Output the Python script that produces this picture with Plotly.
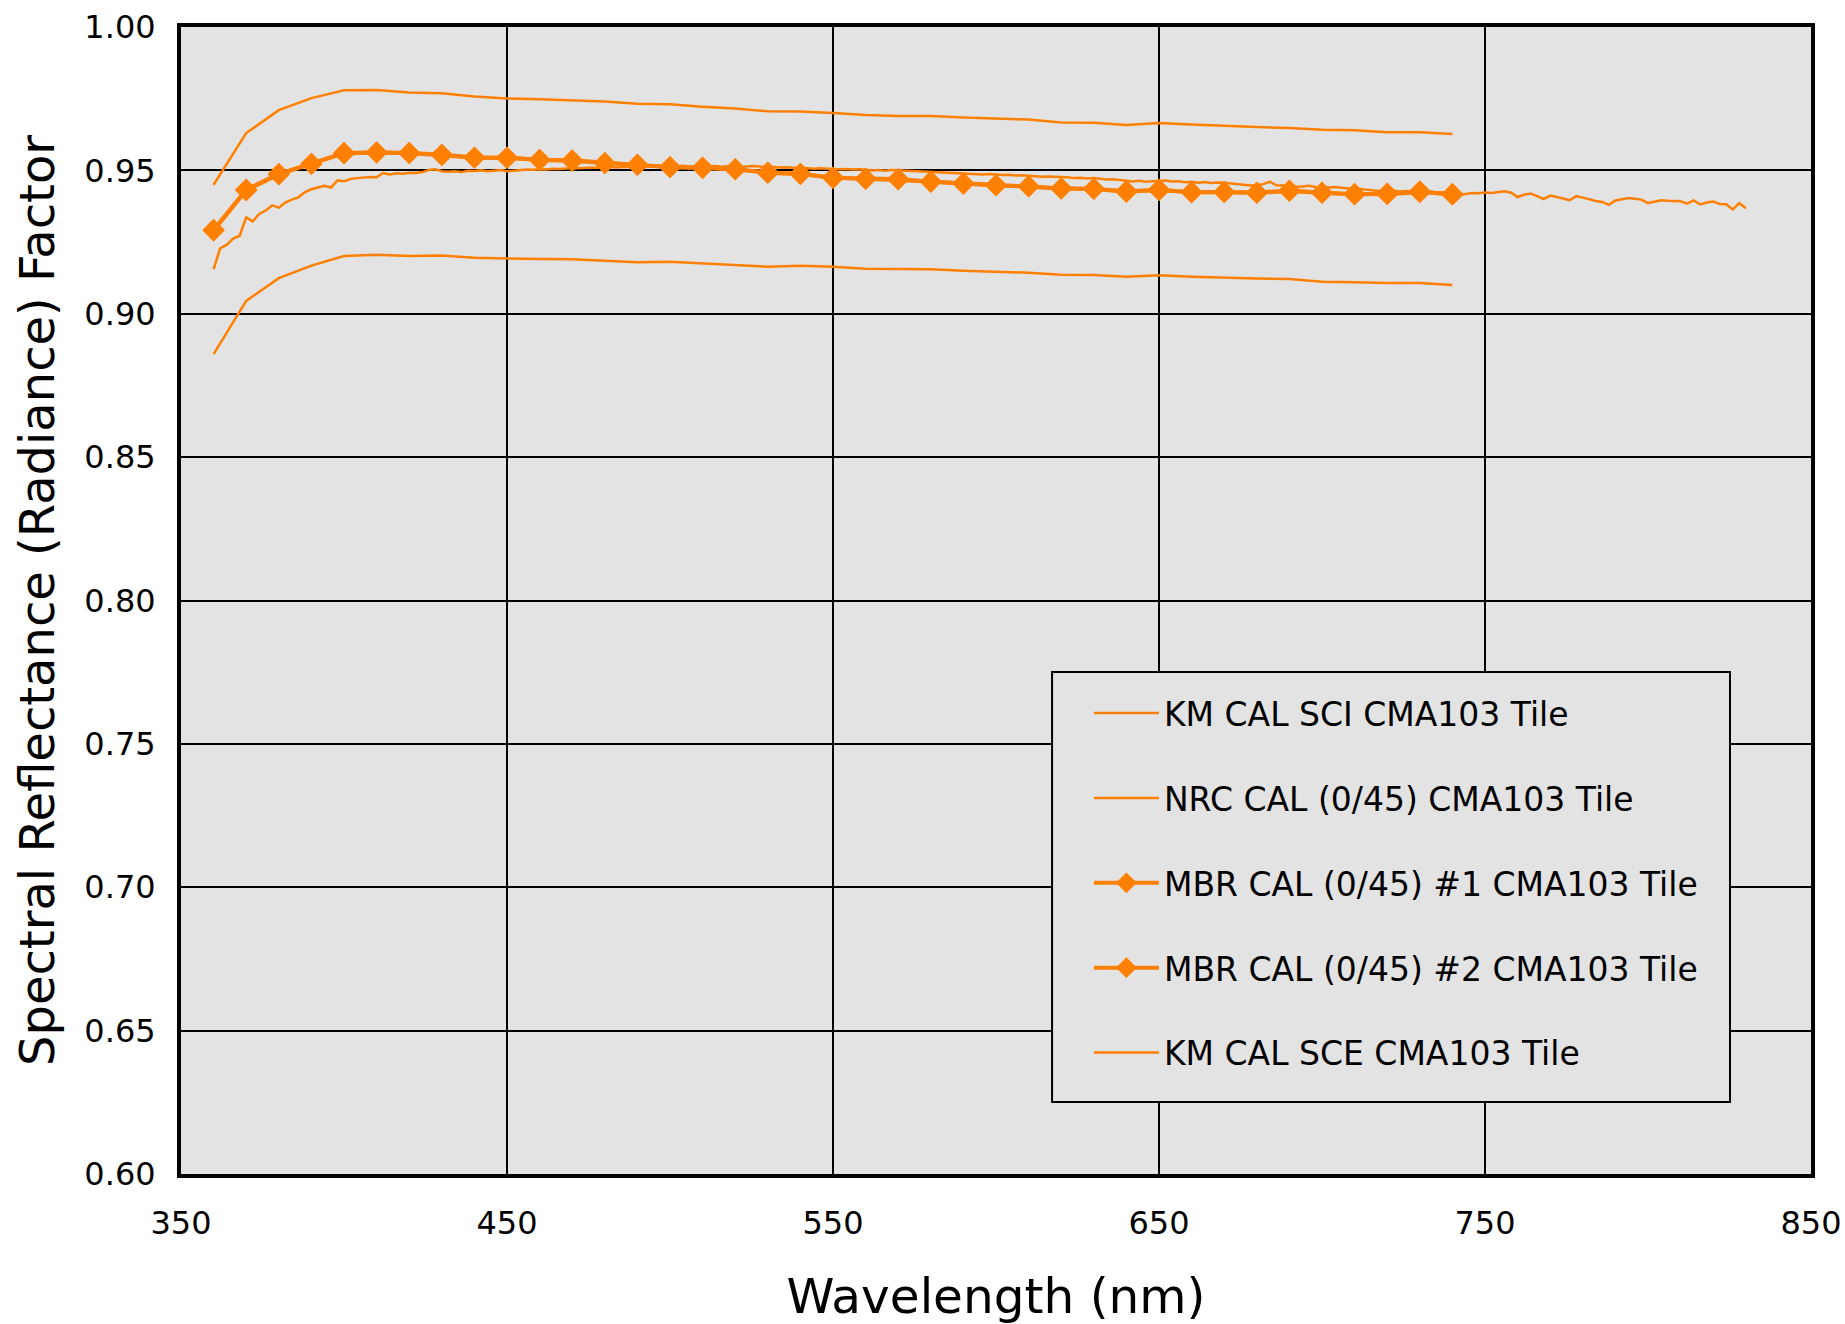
import plotly.graph_objects as go

ORANGE = "#ff8000"
FONT = "DejaVu Sans, Verdana, sans-serif"

wl_10 = list(range(360, 750, 10))

km_sci = [0.9450, 0.9630, 0.9710, 0.9752, 0.9779, 0.9780, 0.9772, 0.9769, 0.9758, 0.9751,
          0.9748, 0.9744, 0.9740, 0.9732, 0.9731, 0.9722, 0.9716, 0.9706, 0.9705, 0.9700,
          0.9693, 0.9690, 0.9690, 0.9684, 0.9680, 0.9677, 0.9667, 0.9666, 0.9658, 0.9665,
          0.9660, 0.9655, 0.9651, 0.9648, 0.9642, 0.9640, 0.9633, 0.9633, 0.9627]

km_sce = [0.8859, 0.9045, 0.9124, 0.9168, 0.9201, 0.9206, 0.9201, 0.9203, 0.9195, 0.9192,
          0.9191, 0.9190, 0.9186, 0.9180, 0.9181, 0.9176, 0.9170, 0.9164, 0.9167, 0.9164,
          0.9157, 0.9156, 0.9155, 0.9150, 0.9146, 0.9143, 0.9136, 0.9135, 0.9129, 0.9134,
          0.9129, 0.9125, 0.9123, 0.9121, 0.9112, 0.9110, 0.9107, 0.9107, 0.9100]

mbr_1 = [0.9293, 0.9433, 0.9488, 0.9523, 0.9561, 0.9563, 0.9561, 0.9555, 0.9545, 0.9545,
         0.9537, 0.9535, 0.9526, 0.9520, 0.9511, 0.9510, 0.9505, 0.9491, 0.9488, 0.9473,
         0.9470, 0.9470, 0.9460, 0.9453, 0.9447, 0.9444, 0.9436, 0.9436, 0.9425, 0.9433,
         0.9423, 0.9425, 0.9423, 0.9430, 0.9423, 0.9416, 0.9419, 0.9427, 0.9415]

mbr_2 = [0.9290, 0.9430, 0.9486, 0.9522, 0.9559, 0.9562, 0.9560, 0.9553, 0.9544, 0.9543,
         0.9536, 0.9533, 0.9525, 0.9519, 0.9512, 0.9508, 0.9503, 0.9493, 0.9487, 0.9475,
         0.9471, 0.9468, 0.9461, 0.9455, 0.9449, 0.9445, 0.9438, 0.9435, 0.9428, 0.9431,
         0.9425, 0.9424, 0.9421, 0.9428, 0.9421, 0.9418, 0.9417, 0.9424, 0.9418]

wl_nrc = list(range(360, 832, 2))
nrc = [0.9156, 0.9228, 0.9240, 0.9262, 0.9272, 0.9336, 0.9322, 0.9348, 0.9360, 0.9378,
       0.9370, 0.9388, 0.9398, 0.9406, 0.9424, 0.9434, 0.9440, 0.9446, 0.9440, 0.9465,
       0.9462, 0.9470, 0.9473, 0.9475, 0.9477, 0.9476, 0.9491, 0.9486, 0.9490, 0.9488,
       0.9492, 0.9491, 0.9494, 0.9501, 0.9504, 0.9497, 0.9495, 0.9497, 0.9494, 0.9499,
       0.9498, 0.9500, 0.9497, 0.9499, 0.9501, 0.9497, 0.9499, 0.9500, 0.9503, 0.9502,
       0.9504, 0.9503, 0.9506, 0.9505, 0.9507, 0.9508, 0.9507, 0.9509, 0.9510, 0.9509,
       0.9511, 0.9512, 0.9510, 0.9513, 0.9512, 0.9514, 0.9513, 0.9515, 0.9514, 0.9513,
       0.9515, 0.9514, 0.9516, 0.9513, 0.9515, 0.9516, 0.9514, 0.9515, 0.9513, 0.9515,
       0.9514, 0.9512, 0.9514, 0.9515, 0.9513, 0.9514, 0.9512, 0.9510, 0.9511, 0.9509,
       0.9510, 0.9508, 0.9506, 0.9507, 0.9505, 0.9505, 0.9504, 0.9505, 0.9503, 0.9504,
       0.9502, 0.9500, 0.9501, 0.9499, 0.9501, 0.9500, 0.9497, 0.9496, 0.9497, 0.9494,
       0.9493, 0.9494, 0.9491, 0.9490, 0.9491, 0.9488, 0.9489, 0.9487, 0.9486, 0.9487,
       0.9485, 0.9484, 0.9485, 0.9482, 0.9483, 0.9481, 0.9480, 0.9478, 0.9479, 0.9477,
       0.9477, 0.9476, 0.9473, 0.9474, 0.9472, 0.9473, 0.9470, 0.9468, 0.9469, 0.9466,
       0.9463, 0.9461, 0.9464, 0.9460, 0.9462, 0.9463, 0.9465, 0.9461, 0.9462, 0.9459,
       0.9460, 0.9457, 0.9459, 0.9456, 0.9458, 0.9457, 0.9454, 0.9452, 0.9450, 0.9447,
       0.9449, 0.9452, 0.9461, 0.9448, 0.9447, 0.9445, 0.9443, 0.9444, 0.9446, 0.9442,
       0.9441, 0.9440, 0.9442, 0.9439, 0.9437, 0.9438, 0.9434, 0.9432, 0.9430, 0.9428,
       0.9427, 0.9429, 0.9426, 0.9428, 0.9426, 0.9425, 0.9427, 0.9424, 0.9422, 0.9423,
       0.9420, 0.9414, 0.9418, 0.9421, 0.9420, 0.9423, 0.9421, 0.9424, 0.9427, 0.9422,
       0.9407, 0.9415, 0.9419, 0.9410, 0.9400, 0.9412, 0.9408, 0.9402, 0.9396, 0.9410,
       0.9405, 0.9398, 0.9393, 0.9390, 0.9380, 0.9395, 0.9399, 0.9404, 0.9401, 0.9398,
       0.9386, 0.9390, 0.9396, 0.9394, 0.9393, 0.9392, 0.9384, 0.9395, 0.9381, 0.9388,
       0.9391, 0.9383, 0.9382, 0.9364, 0.9386, 0.9368]

names = ["KM CAL SCI CMA103 Tile", "NRC CAL (0/45) CMA103 Tile",
         "MBR CAL (0/45) #1 CMA103 Tile", "MBR CAL (0/45) #2 CMA103 Tile",
         "KM CAL SCE CMA103 Tile"]

x_ticks = [350, 450, 550, 650, 750, 850]
y_ticks = [0.60, 0.65, 0.70, 0.75, 0.80, 0.85, 0.90, 0.95, 1.00]

fig = go.Figure()
fig.add_trace(go.Scatter(x=wl_10, y=km_sci, name=names[0], mode="lines",
                         line=dict(color=ORANGE, width=2.5), legendgroup="a"))
fig.add_trace(go.Scatter(x=wl_nrc, y=nrc, name=names[1], mode="lines",
                         line=dict(color=ORANGE, width=2.5), legendgroup="b"))
fig.add_trace(go.Scatter(x=wl_10, y=mbr_1, name=names[2], mode="lines+markers",
                         line=dict(color=ORANGE, width=4),
                         marker=dict(symbol="diamond", size=17, color=ORANGE), legendgroup="c"))
fig.add_trace(go.Scatter(x=wl_10, y=mbr_2, name=names[3], mode="lines+markers",
                         line=dict(color=ORANGE, width=4),
                         marker=dict(symbol="diamond", size=17, color=ORANGE), legendgroup="d"))
fig.add_trace(go.Scatter(x=wl_10, y=km_sce, name=names[4], mode="lines",
                         line=dict(color=ORANGE, width=2.5), legendgroup="e"))

# legend frame drawn as a shape (legend itself is transparent on top of it)
fig.add_shape(type="rect", xref="paper", yref="paper",
              x0=0.5344, x1=0.9503, y0=0.0628, y1=0.4377,
              fillcolor="#e3e3e3", line=dict(color="black", width=2), layer="above")

fig.update_layout(
    width=1845, height=1324,
    margin=dict(l=181, r=34, t=27, b=150, autoexpand=False),
    paper_bgcolor="white",
    plot_bgcolor="#e3e3e3",
    font=dict(family=FONT, color="black", size=32),
    showlegend=True,
    legend=dict(
        x=0.557, y=0.4263, xanchor="left", yanchor="top",
        bgcolor="rgba(0,0,0,0)", borderwidth=0,
        font=dict(family=FONT, size=33, color="black"),
        tracegroupgap=39, itemwidth=65, traceorder="grouped",
    ),
    xaxis=dict(
        range=[350, 850], tickvals=x_ticks, ticktext=[str(v) for v in x_ticks],
        showgrid=True, gridcolor="black", gridwidth=2,
        showline=True, linecolor="black", linewidth=4, mirror=True,
        ticks="", ticklabelstandoff=18, zeroline=False, automargin=False,
        tickfont=dict(size=32),
        title=dict(text="Wavelength (nm)", font=dict(size=48.5), standoff=39),
    ),
    yaxis=dict(
        range=[0.60, 1.00], tickvals=y_ticks, ticktext=[f"{v:.2f}" for v in y_ticks],
        showgrid=True, gridcolor="black", gridwidth=2,
        showline=True, linecolor="black", linewidth=4, mirror=True,
        ticks="", ticklabelstandoff=15, zeroline=False, automargin=False,
        tickfont=dict(size=32),
        title=dict(text="Spectral Reflectance (Radiance) Factor", font=dict(size=48), standoff=16),
    ),
)

fig.write_html("out.html", config={"displayModeBar": False})
